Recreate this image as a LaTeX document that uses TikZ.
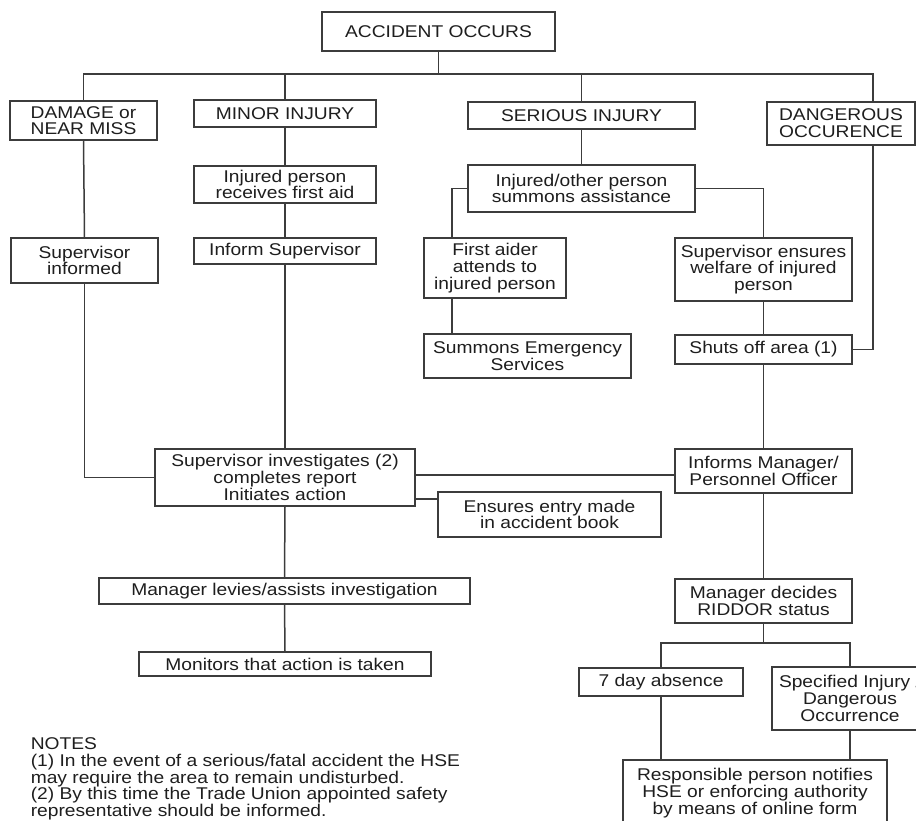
\documentclass[tikz,border=0pt]{standalone}
\usepackage{fontspec}
\setmainfont[FakeStretch=1.13]{Liberation Sans}
\usetikzlibrary{positioning}
\definecolor{cline}{HTML}{3C3C3C}
\definecolor{ctext}{HTML}{1E1E1E}
\tikzset{
  every picture/.style={font=\fontsize{17}{16.7}\selectfont, line width=1.5pt},
  box/.style={draw=cline, fill=white, align=center, inner sep=0pt, text=ctext},
  link/.style={draw=cline, line width=1.5pt},
  note/.style={align=left, inner sep=0pt, text=ctext, anchor=north west},
}

\begin{document}
\begin{tikzpicture}[x=1pt, y=-1pt,
                    b/.style={box, minimum width=#1},
                    h/.style={minimum height=#1}]
  \useasboundingbox (0,0) rectangle (916,821);
  \node[b=233pt, h=39pt] (acc) at (438.5, 31.5) {ACCIDENT OCCURS};
  \node[b=147pt, h=39pt] (dmg) at (83.5, 120.5) {DAMAGE or\\NEAR MISS};
  \node[b=182pt, h=27pt] (minor) at (285, 113.5) {MINOR INJURY};
  \node[b=227pt, h=27pt] (serious) at (581.5, 115.5) {SERIOUS INJURY};
  \node[b=148pt, h=43pt] (dang) at (841, 123.5) {DANGEROUS\\OCCURENCE};
  \node[b=182pt, h=37pt] (firstaid) at (285, 184.5) {Injured person\\receives first aid};
  \node[b=227pt, h=47pt] (summons) at (581.5, 188.5) {Injured/other person\\summons assistance};
  \node[b=147pt, h=45pt] (supinf) at (84.5, 260.5) {Supervisor\\informed};
  \node[b=182pt, h=26pt] (informsup) at (285, 251) {Inform Supervisor};
  \node[b=142pt, h=60pt] (aider) at (495, 268) {First aider\\attends to\\injured person};
  \node[b=177pt, h=63pt] (welfare) at (763.5, 269.5) {Supervisor ensures\\welfare of injured\\person};
  \node[b=207pt, h=44pt] (emerg) at (527.5, 356) {Summons Emergency\\Services};
  \node[b=177pt, h=29pt] (shuts) at (763.5, 349.5) {Shuts off area (1)};
  \node[b=260pt, h=57pt] (invest) at (285, 477.5) {Supervisor investigates (2)\\completes report\\Initiates action};
  \node[b=177pt, h=44pt] (informs) at (763.5, 471) {Informs Manager/\\Personnel Officer};
  \node[b=223pt, h=45pt] (entry) at (549.5, 514.5) {Ensures entry made\\in accident book};
  \node[b=371pt, h=26pt] (levies) at (284.5, 591) {Manager levies/assists investigation};
  \node[b=292pt, h=24pt] (monitors) at (285, 664) {Monitors that action is taken};
  \node[b=177pt, h=44pt] (riddor) at (763.5, 601) {Manager decides\\RIDDOR status};
  \node[b=164pt, h=28pt] (seven) at (661, 682) {7 day absence};
  \node[b=156pt, h=63pt] (spec) at (850, 698.5) {Specified Injury /\\Dangerous\\Occurrence};
  \node[b=264pt, h=66pt] (notify) at (755, 793) {Responsible person notifies\\HSE or enforcing authority\\by means of online form};

  \coordinate (bus) at (438.5, 74);
  \coordinate (dtop) at (873, 102);
  \coordinate (dbot) at (873, 145);
  \coordinate (aidx) at (452, 191);
  \coordinate (tie) at (545, 475);
  \coordinate (book) at (426, 499);
  \coordinate (rbus) at (763.5, 643);

  % top level split
  \draw[link] (acc.south) -- (bus);
  \draw[link] (dmg.north) |- (bus) -| (dtop);
  \draw[link] (minor.north) -- (minor.north |- bus);
  \draw[link] (serious.north) -- (serious.north |- bus);

  % minor injury / damage
  \draw[link] (minor.south) -- (firstaid.north);
  \draw[link] (firstaid.south) -- (informsup.north);
  \draw[link] (informsup.south) -- (invest.north);
  \draw[link] (dmg.south) -- (supinf.north);
  \draw[link] (supinf.south) |- (invest.west);

  % serious injury
  \draw[link] (serious.south) -- (summons.north);
  \draw[link] (summons.west) -| (aider.north -| aidx);
  \draw[link] (summons.east) -| (welfare.north);
  \draw[link] (aider.south -| aidx) -- (emerg.north -| aidx);
  \draw[link] (welfare.south) -- (shuts.north);
  \draw[link] (dbot) |- (shuts.east);
  \draw[link] (shuts.south) -- (informs.north);

  % investigation
  \draw[link] (invest.east |- tie) -- (informs.west |- tie);
  \draw[link] (invest.east |- book) -- (entry.west |- book);
  \draw[link] (invest.south) -- (levies.north);
  \draw[link] (levies.south) -- (monitors.north);

  % RIDDOR
  \draw[link] (informs.south) -- (riddor.north);
  \draw[link] (riddor.south) -- (rbus);
  \draw[link] (seven.north) |- (rbus) -| (spec.north);
  \draw[link] (seven.south) -- (notify.north -| seven.south);
  \draw[link] (spec.south) -- (notify.north -| spec.south);

  \node[note] (notes) at (30, 737) {NOTES\\
    (1) In the event of a serious/fatal accident the HSE\\
    may require the area to remain undisturbed.\\
    (2) By this time the Trade Union appointed safety\\
    representative should be informed.};
\end{tikzpicture}
\end{document}
